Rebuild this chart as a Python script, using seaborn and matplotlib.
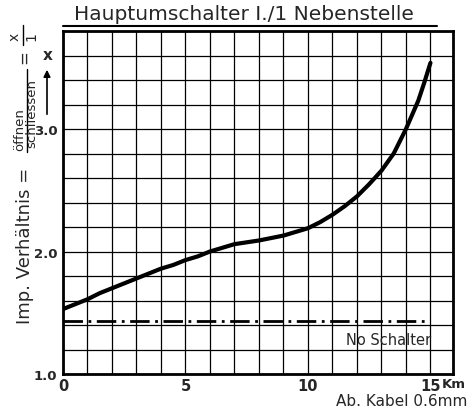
import numpy as np
import pandas as pd
import matplotlib
matplotlib.use("Agg")
import matplotlib.pyplot as plt
from matplotlib.lines import Line2D
import seaborn as sns

# data
km = [0, 0.5, 1, 1.5, 2, 2.5, 3, 3.5, 4, 4.5, 5, 5.5, 6, 6.5, 7, 7.5, 8, 8.5,
      9, 9.5, 10, 10.5, 11, 11.5, 12, 12.5, 13, 13.5, 14, 14.5, 14.75, 15]
ratio = [1.53, 1.57, 1.61, 1.66, 1.70, 1.74, 1.78, 1.82, 1.86, 1.89, 1.93,
         1.96, 2.00, 2.03, 2.06, 2.075, 2.09, 2.11, 2.13, 2.16, 2.19, 2.24,
         2.30, 2.37, 2.45, 2.55, 2.66, 2.80, 3.00, 3.23, 3.38, 3.54]
no_switch_km = [0, 14.95]
no_switch_ratio = [1.43, 1.43]

x_ticks = list(range(0, 16))
x_labels = ["0", "", "", "", "", "5", "", "", "", "", "10", "", "", "", "", "15"]
y_ticks = [1.0, 1.2, 1.4, 1.6, 1.8, 2.0, 2.2, 2.4, 2.6, 2.8, 3.0, 3.2, 3.4, 3.6, 3.8]
y_labels = ["1.0", "", "", "", "", "2.0", "", "", "", "", "3.0", "", "", "", ""]

sns.set_style("white")
plt.rcParams["font.family"] = ["DejaVu Sans"]

df = pd.DataFrame({"km": km, "ratio": ratio})
df_ns = pd.DataFrame({"km": no_switch_km, "ratio": no_switch_ratio})

W, H = 469, 410
def fx(px):
    return px / W
def fy(py):
    return 1 - py / H

fig = plt.figure(figsize=(4.69, 4.10), dpi=100)
ax = fig.add_axes([fx(63), fy(375), 390 / W, 343 / H])

sns.lineplot(data=df, x="km", y="ratio", ax=ax, color="black", lw=3.0,
             solid_capstyle="round")
sns.lineplot(data=df_ns, x="km", y="ratio", ax=ax, color="black", lw=2.0,
             linestyle=(0, (7, 2, 1, 2)))

ax.set_xlim(0, 15.92)
ax.set_ylim(1.0, 3.8)
ax.set_xticks(x_ticks)
ax.set_xticklabels(x_labels, fontsize=10.5, fontweight="bold")
ax.set_yticks(y_ticks)
ax.set_yticklabels(y_labels, fontsize=9.5, fontweight="bold")
ax.tick_params(axis="x", length=0, pad=3)
ax.tick_params(axis="y", length=0, pad=4)
ax.grid(True, color="black", lw=0.9)
for s in ax.spines.values():
    s.set_color("black")
    s.set_linewidth(2.0)
ax.set_xlabel("")
ax.set_ylabel("")

ax.text(11.55, 1.285, "No Schalter", fontsize=10.5, va="center", ha="left")
fig.text(fx(442), fy(378), "Km", fontsize=9.5, fontweight="bold",
         va="top", ha="left")
fig.text(fx(467), fy(402), "Ab. Kabel 0.6mm", fontsize=11,
         ha="right", va="center")

# title with underline
fig.text(fx(244), fy(15), "Hauptumschalter I./1 Nebenstelle",
         fontsize=14.5, ha="center", va="center")
fig.add_artist(Line2D([fx(63), fx(437)], [fy(27), fy(27)],
                      color="black", lw=1.5))

# y label: Imp. Verhältnis = öffnen / schliessen = x / 1
fig.text(fx(25), fy(246), "Imp. Verhältnis =", fontsize=13, rotation=90,
         ha="center", va="center")
fig.text(fx(19.5), fy(130), "öffnen", fontsize=9.5, rotation=90,
         ha="center", va="center")
fig.text(fx(32), fy(113), "schliessen", fontsize=9.5, rotation=90,
         ha="center", va="center")
fig.add_artist(Line2D([fx(26.5), fx(26.5)], [fy(153), fy(70)], color="black", lw=1.0))
fig.text(fx(24), fy(57), "=", fontsize=12, rotation=90,
         ha="center", va="center")
fig.text(fx(15), fy(37), "x", fontsize=10, rotation=90,
         ha="center", va="center")
fig.text(fx(31), fy(37), "1", fontsize=10, rotation=90,
         ha="center", va="center")
fig.add_artist(Line2D([fx(23), fx(23)], [fy(46), fy(26)], color="black", lw=1.0))

# x with upward arrow
fig.text(fx(47.5), fy(55), "x", fontsize=11, fontweight="bold",
         ha="center", va="center")
ax.annotate("", xy=(fx(47), fy(68)), xytext=(fx(47), fy(118)),
            xycoords="figure fraction", textcoords="figure fraction",
            arrowprops=dict(arrowstyle="-|>", color="black", lw=1.2))

fig.savefig("out.png", dpi=100)
